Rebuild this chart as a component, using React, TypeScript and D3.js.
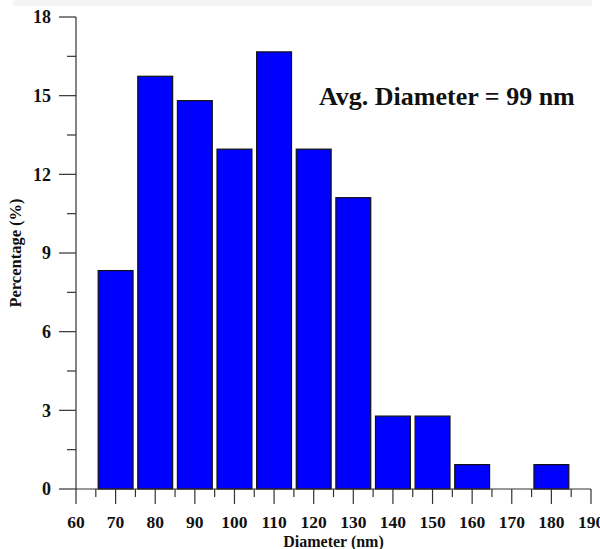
import React from "react";
import * as d3 from "d3";

const diameters = [70, 80, 90, 100, 110, 120, 130, 140, 150, 160, 170, 180];
const percentages = [8.33, 15.74, 14.81, 12.96, 16.67, 12.96, 11.11, 2.78, 2.78, 0.93, 0, 0.93];
const xTicks = [60, 70, 80, 90, 100, 110, 120, 130, 140, 150, 160, 170, 180, 190];
const xMinorTicks = [65, 75, 85, 95, 105, 115, 125, 135, 145, 155, 165, 175, 185];
const yTicks = [0, 3, 6, 9, 12, 15, 18];
const yMinorTicks = [1.5, 4.5, 7.5, 10.5, 13.5, 16.5];
const annotation = "Avg. Diameter = 99 nm";

export default function App() {
  const W = 600, H = 549;
  const x = d3.scaleLinear().domain([60, 190]).range([76, 591]);
  const y = d3.scaleLinear().domain([0, 18]).range([489, 17]);
  const halfW = 4.4;
  const font = "'Liberation Serif', 'Times New Roman', serif";
  const axisColor = "#333";

  return (
    <svg width={W} height={H} style={{ position: "absolute", left: 0, top: 0, background: "#fff" }}>
      <rect x={13} y={0} width={579} height={6} fill="#f4f4f4" />
      {/* bars */}
      {diameters.map((d, i) =>
        percentages[i] > 0 ? (
          <rect
            key={d}
            x={x(d - halfW)}
            y={y(percentages[i])}
            width={x(d + halfW) - x(d - halfW)}
            height={y(0) - y(percentages[i])}
            fill="#0000ff"
            stroke="#111"
            strokeWidth={1.2}
          />
        ) : null
      )}
      {/* y axis */}
      <line x1={x(60)} x2={x(60)} y1={y(18)} y2={y(0)} stroke={axisColor} strokeWidth={1.2} />
      {yTicks.map((t) => (
        <g key={"yt" + t}>
          <line x1={x(60) - 17} x2={x(60)} y1={y(t)} y2={y(t)} stroke={axisColor} strokeWidth={1.2} />
          <text x={51} y={y(t)} dy="0.35em" textAnchor="end" fontFamily={font} fontWeight="bold" fontSize={18} fill="#111">
            {t}
          </text>
        </g>
      ))}
      {yMinorTicks.map((t) => (
        <line key={"ym" + t} x1={x(60) - 9} x2={x(60)} y1={y(t)} y2={y(t)} stroke={axisColor} strokeWidth={1.2} />
      ))}
      {/* x axis */}
      <line x1={x(60)} x2={x(190)} y1={y(0)} y2={y(0)} stroke={axisColor} strokeWidth={1.2} />
      {xTicks.map((t) => (
        <g key={"xt" + t}>
          <line x1={x(t)} x2={x(t)} y1={y(0)} y2={y(0) + 15} stroke={axisColor} strokeWidth={1.2} />
          <text x={x(t)} y={528} textAnchor="middle" fontFamily={font} fontWeight="bold" fontSize={17.5} fill="#111">
            {t}
          </text>
        </g>
      ))}
      {xMinorTicks.map((t) => (
        <line key={"xm" + t} x1={x(t)} x2={x(t)} y1={y(0)} y2={y(0) + 8} stroke={axisColor} strokeWidth={1.2} />
      ))}
      {/* axis titles */}
      <text x={x(125)} y={547} textAnchor="middle" fontFamily={font} fontWeight="bold" fontSize={16} fill="#111">
        Diameter (nm)
      </text>
      <text
        transform={`translate(21, ${(y(0) + y(18)) / 2}) rotate(-90)`}
        textAnchor="middle"
        fontFamily={font}
        fontWeight="bold"
        fontSize={16.5}
        fill="#111"
      >
        Percentage (%)
      </text>
      {/* annotation */}
      <text x={319} y={105} fontFamily={font} fontWeight="bold" fontSize={26} fill="#111">
        {annotation}
      </text>
    </svg>
  );
}
